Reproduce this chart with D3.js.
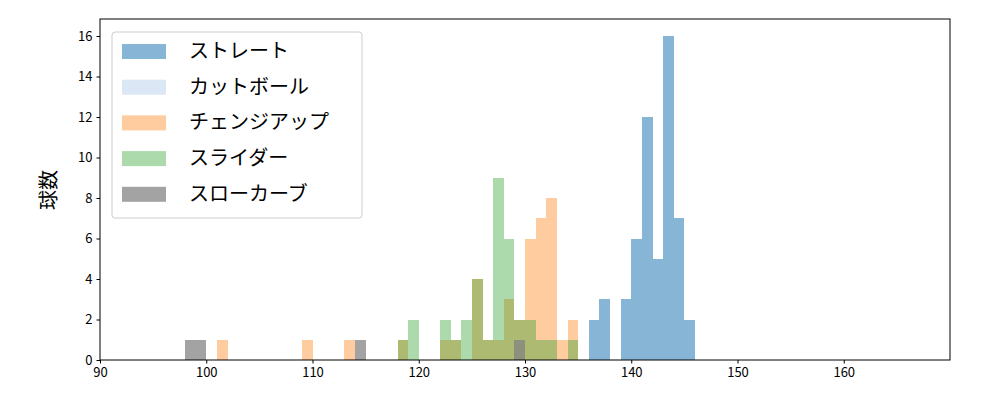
<!DOCTYPE html>
<html><head><meta charset="utf-8">
<script src="https://cdn.jsdelivr.net/npm/d3@7"></script>
<style>body{margin:0;background:#fff}text{font-family:"Noto Sans CJK JP","DejaVu Sans",sans-serif}</style>
</head><body><svg id="c" width="1000" height="400"></svg>
<script>
const seriesNames = ["ストレート","カットボール","チェンジアップ","スライダー","スローカーブ"];
const seriesColors = ["#1f77b4","#aec7e8","#ff7f0e","#2ca02c","#7f7f7f"];
const seriesAlpha = [0.54,0.43,0.4,0.39,0.72];
// bins: start, end, count
const straightStart = [136,137,139,140,141,142,143,144,145];
const straightCount = [2,3,3,6,12,5,16,7,2];
const cutStart = [];
const cutCount = [];
const changeStart = [101,109,113,118,122,123,125,126,127,128,129,130,131,132,133,134];
const changeCount = [1,1,1,1,1,1,4,1,1,3,2,6,7,8,1,2];
const sliderStart = [118,119,122,123,124,125,126,127,128,129,130,131,132,134];
const sliderCount = [1,2,2,1,2,4,1,9,6,2,2,1,1,1];
const curveStart = [98,114,129];
const curveEnd = [100,115,130];
const curveCount = [1,1,1];
const xTicks = [90,100,110,120,130,140,150,160];
const yTicks = [0,2,4,6,8,10,12,14,16];

const mk = (s,c,e)=>s.map((v,i)=>({x0:v,x1:e?e[i]:v+1,n:c[i]}));
const series = [mk(straightStart,straightCount),mk(cutStart,cutCount),mk(changeStart,changeCount),mk(sliderStart,sliderCount),mk(curveStart,curveCount,curveEnd)];

const svg = d3.select("#c");
const x = d3.scaleLinear().domain([90,170]).range([100,950]);
const y = d3.scaleLinear().domain([0,16]).range([360,36]);
series.forEach((d,i)=>{
  svg.append("g").attr("shape-rendering","crispEdges").selectAll("rect").data(d).join("rect")
   .attr("x",b=>x(b.x0)).attr("width",b=>x(b.x1)-x(b.x0))
   .attr("y",b=>y(b.n)).attr("height",b=>y(0)-y(b.n))
   .attr("fill",seriesColors[i]).attr("fill-opacity",seriesAlpha[i]);
});
svg.append("rect").attr("x",100).attr("y",19).attr("width",850).attr("height",341)
  .attr("fill","none").attr("stroke","#000").attr("stroke-width",1);
const xa = svg.append("g").attr("transform","translate(0,360)").call(d3.axisBottom(x).tickValues(xTicks).tickSize(3.5).tickPadding(4));
const ya = svg.append("g").attr("transform","translate(100,0)").call(d3.axisLeft(y).tickValues(yTicks).tickSize(3.5).tickPadding(4));
[xa,ya].forEach(a=>{a.select(".domain").remove();a.selectAll("text").attr("font-size",13).attr("font-family","DejaVu Sans").attr("fill","#000");});
svg.append("text").attr("transform","translate(56,190) rotate(-90)").attr("text-anchor","middle")
  .attr("font-size",20).text("球数");
const lg = svg.append("g");
lg.append("rect").attr("x",112).attr("y",32).attr("width",250).attr("height",186).attr("rx",3)
  .attr("fill","#fff").attr("fill-opacity",0.8).attr("stroke","#ccc");
seriesNames.forEach((n,i)=>{
  const yy = 51+i*35.7;
  lg.append("rect").attr("x",122).attr("y",yy-7).attr("width",44).attr("height",15)
    .attr("fill",seriesColors[i]).attr("fill-opacity",seriesAlpha[i]);
  lg.append("text").attr("x",189).attr("y",yy+7).attr("font-size",20).text(n);
});
</script></body></html>
